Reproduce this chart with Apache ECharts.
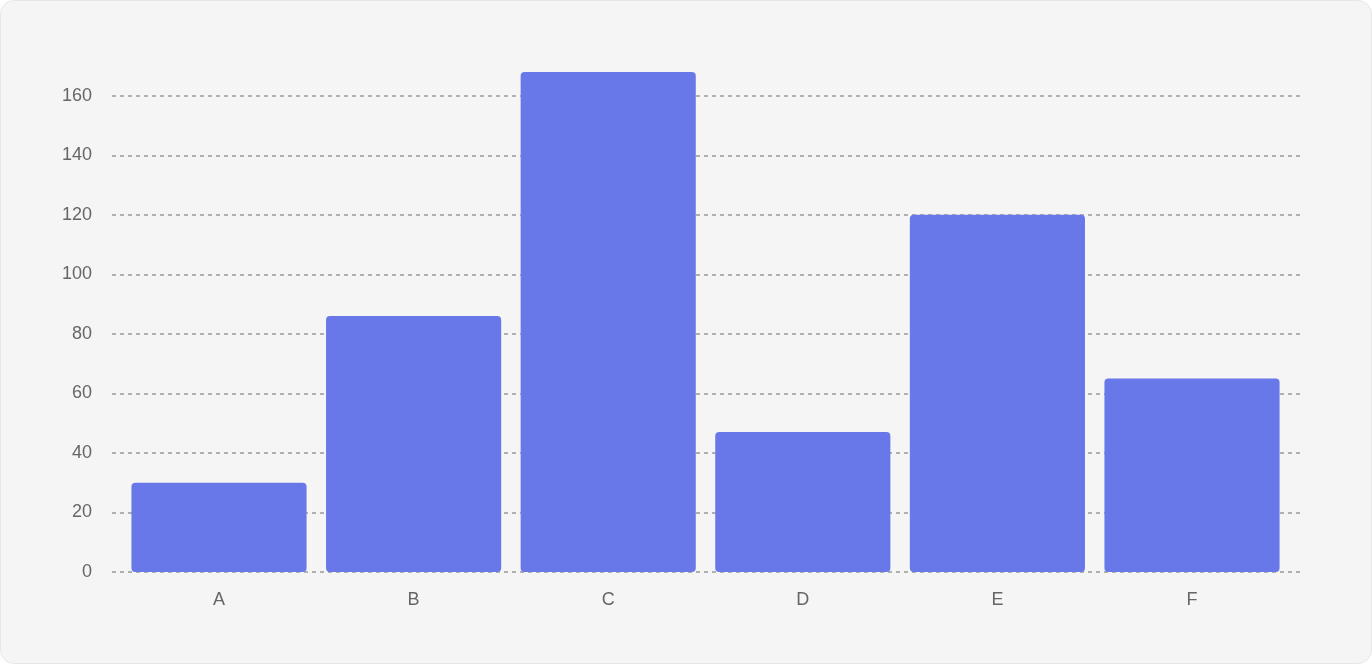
<!DOCTYPE html>
<html lang="en">
<head>
  <meta charset="UTF-8">
  <title>bar chart</title>
  <script src="https://cdn.jsdelivr.net/npm/echarts@6/dist/echarts.min.js"></script>
  <style>
    html, body { margin: 0; padding: 0; background: #fff; }
    #card {
      width: 1370px; height: 662px;
      background: #f5f5f5;
      border: 1px solid #e6e6e6;
      border-radius: 14px;
    }
    #main { width: 1370px; height: 662px; }
  </style>
</head>
<body>
  <div id="card"><div id="main"></div></div>
  <script>
    var categories = ['A', 'B', 'C', 'D', 'E', 'F'];
    var values = [30, 86, 168, 47, 120, 65];
    var yMax = 168;

    var font = 'Liberation Sans, Arial, sans-serif';
    var chart = echarts.init(document.getElementById('main'));
    // grid 0 carries the y labels and dashed lines, grid 1 (a bit narrower) the bars
    var option = {
      animation: false,
      grid: [
        { left: 111, right: 71, top: 71, bottom: 91 },
        { left: 120.7, right: 81.7, top: 71, bottom: 91 }
      ],
      xAxis: [
        { type: 'category', gridIndex: 0, data: categories, show: false },
        {
          type: 'category',
          gridIndex: 1,
          data: categories,
          axisLine: { show: false },
          axisTick: { show: false },
          axisLabel: { color: '#666', fontSize: 18, margin: 19, fontFamily: font }
        }
      ],
      yAxis: [
        {
          type: 'value',
          gridIndex: 0,
          min: 0,
          max: yMax,
          interval: 20,
          axisLine: { show: false },
          axisTick: { show: false },
          axisLabel: { color: '#666', fontSize: 18, margin: 20, fontFamily: font, showMaxLabel: false },
          splitLine: {
            showMaxLine: false,
            lineStyle: { color: '#999', type: [4, 4], width: 1.5 }
          }
        },
        {
          type: 'value',
          gridIndex: 1,
          min: 0,
          max: yMax,
          show: false,
          splitLine: { show: false }
        }
      ],
      series: [{
        type: 'bar',
        xAxisIndex: 1,
        yAxisIndex: 1,
        data: values,
        barCategoryGap: '10%',
        itemStyle: { color: '#6878e8', borderRadius: 4 }
      }]
    };
    chart.setOption(option);
  </script>
</body>
</html>
